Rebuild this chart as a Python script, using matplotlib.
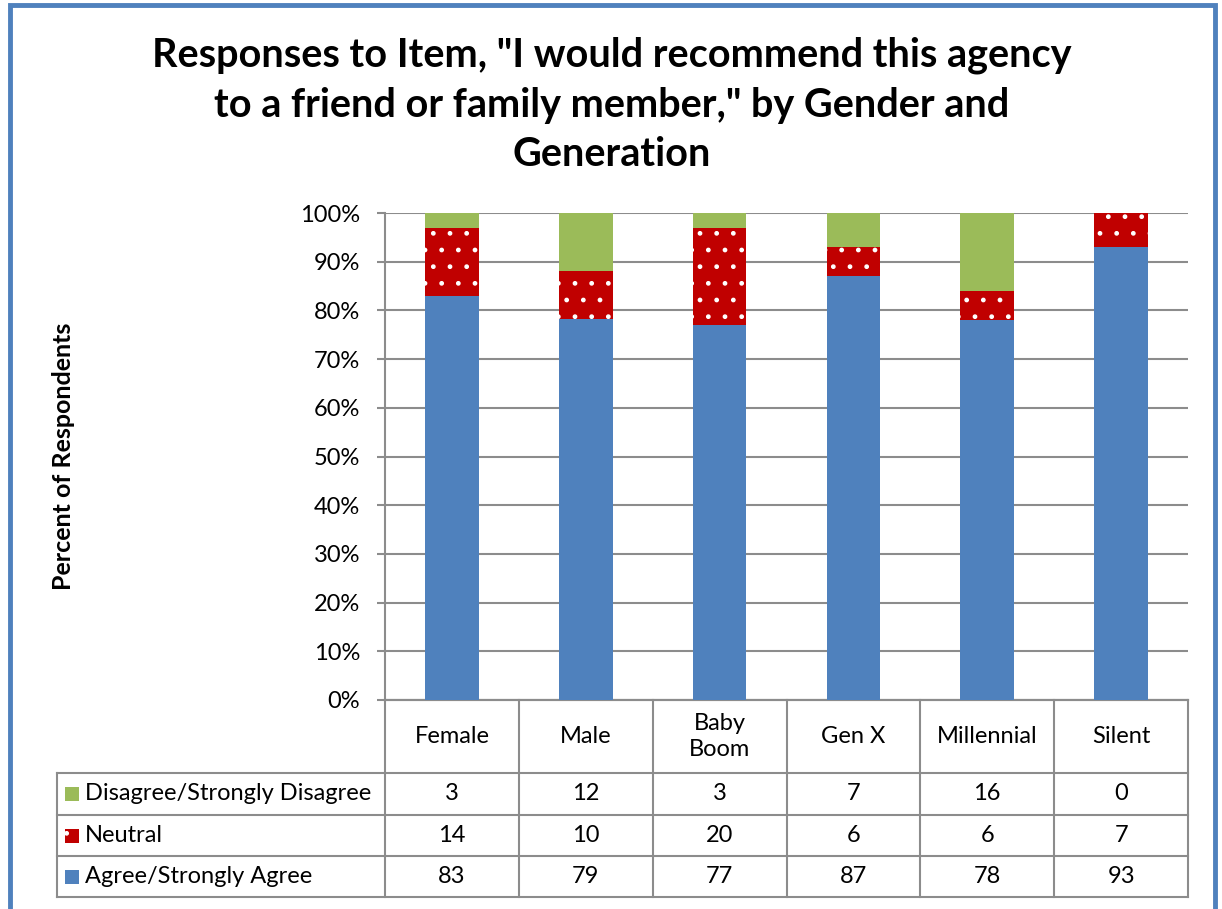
import matplotlib
matplotlib.use("Agg")
import matplotlib.pyplot as plt
from matplotlib.patches import Rectangle
from matplotlib.lines import Line2D
import numpy as np

categories = ["Female", "Male", "Baby\nBoom", "Gen X", "Millennial", "Silent"]
series_names = ["Disagree/Strongly Disagree", "Neutral", "Agree/Strongly Agree"]
agree = [83, 79, 77, 87, 78, 93]
neutral = [14, 10, 20, 6, 6, 7]
disagree = [3, 12, 3, 7, 16, 0]

BLUE = "#4F81BD"
RED = "#C00000"
GREEN = "#9BBB59"
GRID = "#8C8C8C"
TABLE = "#8C8C8C"
FS = 17

plt.rcParams["font.family"] = ["Lato", "DejaVu Sans"]
plt.rcParams["hatch.linewidth"] = 1.0

W, H = 1222, 909
fig = plt.figure(figsize=(W / 100, H / 100), dpi=100)

# outer chart border
fig.patches.append(Rectangle((10 / W, -0.05), 1205 / W, 1 - 5 / H + 0.05,
                             transform=fig.transFigure, fill=False,
                             edgecolor=BLUE, linewidth=3.5))

ax = fig.add_axes([385 / W, 1 - 700 / H, 803 / W, 487 / H])

a = np.array(agree, float)
n = np.array(neutral, float)
d = np.array(disagree, float)
tot = a + n + d
x = np.arange(len(categories))
bw = 0.4
ax.bar(x, a / tot, bw, color=BLUE, zorder=3)
ax.bar(x, n / tot, bw, bottom=a / tot, color=RED, edgecolor="white",
       linewidth=0, hatch=".", zorder=3)
ax.bar(x, d / tot, bw, bottom=(a + n) / tot, color=GREEN, zorder=3)

ax.set_xlim(-0.5, len(categories) - 0.5)
ax.set_ylim(0, 1)
ticks = np.arange(0, 1.01, 0.1)
ax.set_yticks(ticks)
ax.set_yticklabels([f"{int(round(v * 100))}%" for v in ticks], fontsize=FS)
ax.set_xticks([])
ax.grid(axis="y", color=GRID, linewidth=1.5, zorder=0)
for s in ["top", "right"]:
    ax.spines[s].set_visible(False)
for s in ["left", "bottom"]:
    ax.spines[s].set_color(GRID)
    ax.spines[s].set_linewidth(1.5)
ax.tick_params(axis="y", length=6, color=GRID, width=1.5, pad=12)

ax.set_ylabel("Percent of Respondents", fontsize=18, fontweight="bold",
              labelpad=0)
ax.yaxis.set_label_coords(-310 / 803, 0.5)

fig.text(612 / W, 1 - 105 / H,
         'Responses to Item, "I would recommend this agency\n'
         'to a friend or family member," by Gender and\nGeneration',
         ha="center", va="center", fontsize=28.5, fontweight="bold",
         linespacing=1.42)

# data table below the axis
axh = 487.0
row_edges = [0, -73 / axh, -115 / axh, -156 / axh, -197 / axh]
left = (57 - 385) / 803.0
tr = ax.transAxes
ncat = len(categories)
lk = dict(color=TABLE, linewidth=1.5, transform=tr, clip_on=False)

ax.add_line(Line2D([0, 1], [row_edges[0]] * 2, **lk))
for y in row_edges[1:]:
    ax.add_line(Line2D([left, 1], [y, y], **lk))
for i in range(ncat + 1):
    ax.add_line(Line2D([i / ncat] * 2, [0, row_edges[-1]], **lk))
ax.add_line(Line2D([left, left], [row_edges[1], row_edges[-1]], **lk))

for i, c in enumerate(categories):
    ax.text((i + 0.5) / ncat, (row_edges[0] + row_edges[1]) / 2, c,
            transform=tr, ha="center", va="center", fontsize=FS,
            linespacing=1.3)

rows = [(series_names[0], disagree, GREEN, None),
        (series_names[1], neutral, RED, "."),
        (series_names[2], agree, BLUE, None)]
for r, (name, vals, col, hatch) in enumerate(rows):
    yc = (row_edges[r + 1] + row_edges[r + 2]) / 2
    kx = (65 - 385) / 803.0
    ax.add_patch(Rectangle((kx, yc - 7 / axh), 14 / 803, 14 / axh,
                           transform=tr, clip_on=False, facecolor=col,
                           edgecolor="white" if hatch else col,
                           linewidth=0, hatch=hatch))
    ax.text((85 - 385) / 803.0, yc, name, transform=tr, ha="left",
            va="center", fontsize=FS)
    for i, v in enumerate(vals):
        ax.text((i + 0.5) / ncat, yc, str(v), transform=tr, ha="center",
                va="center", fontsize=FS)

fig.savefig("out.png", dpi=100)
